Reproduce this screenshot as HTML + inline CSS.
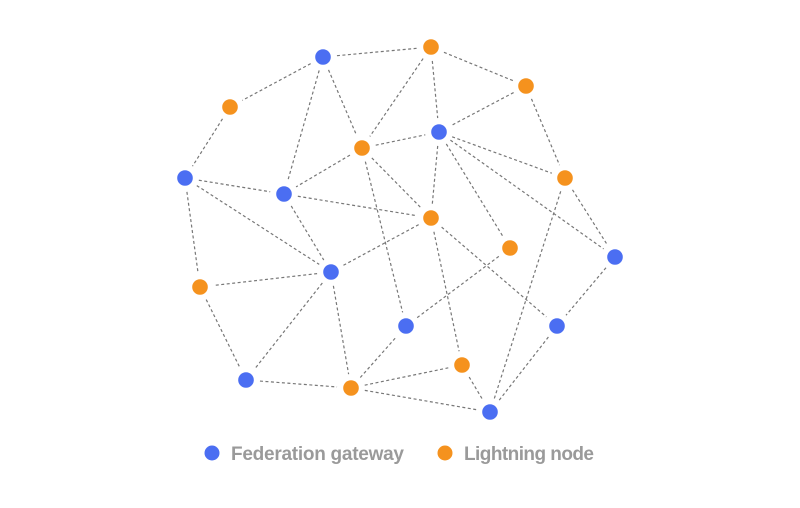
<!DOCTYPE html>
<html><head><meta charset="utf-8"><style>
body{margin:0;background:#fff;}
svg{display:block;font-family:"Liberation Sans",sans-serif;}
</style></head><body>
<svg id="chart" width="800" height="508">
<g id="edges"></g>
<g id="nodes"></g>
<g>
<circle cx="212" cy="453" r="7.5" fill="#4b6ef2"/>
<text x="231" y="460" font-size="19" font-weight="bold" fill="#9a9a9a" textLength="173">Federation gateway</text>
<circle cx="445" cy="453" r="7.5" fill="#f5921e"/>
<text x="464" y="460" font-size="19" font-weight="bold" fill="#9a9a9a" textLength="130">Lightning node</text>
</g>
</svg>
<script>
const nodeIds = ["A","B","C","D","E","F","G","H","I","J","a","b","c","d","e","f","g","h","i","j"];
const nodeTypes = ["gateway","gateway","gateway","gateway","gateway","gateway","gateway","gateway","gateway","gateway","lightning","lightning","lightning","lightning","lightning","lightning","lightning","lightning","lightning","lightning"];
const nodeX = [323,439,185,284,331,615,406,557,246,490,431,526,230,362,565,431,510,200,462,351];
const nodeY = [57,132,178,194,272,257,326,326,380,412,47,86,107,148,178,218,248,287,365,388];
const edges = [["A","a"],["A","c"],["A","d"],["A","D"],["a","d"],["a","B"],["a","b"],["b","B"],["b","e"],["c","C"],["d","B"],["d","D"],["d","f"],["d","G"],["B","f"],["B","e"],["B","g"],["B","F"],["C","D"],["C","E"],["C","h"],["D","f"],["D","E"],["e","F"],["e","J"],["f","E"],["f","i"],["f","H"],["g","G"],["E","h"],["E","I"],["E","j"],["F","H"],["H","J"],["h","I"],["I","j"],["j","G"],["j","i"],["j","J"],["i","J"]];
const colors = {gateway:"#4b6ef2", lightning:"#f5921e"};
const NS="http://www.w3.org/2000/svg";
const eg=document.getElementById("edges"), ng=document.getElementById("nodes");
function pos(id){const k=nodeIds.indexOf(id);return [nodeX[k],nodeY[k]];}
edges.forEach(function(e){
  const p=pos(e[0]), q=pos(e[1]);
  const dx=q[0]-p[0], dy=q[1]-p[1], L=Math.hypot(dx,dy), s=14/L;
  const l=document.createElementNS(NS,"line");
  l.setAttribute("x1",p[0]+dx*s);l.setAttribute("y1",p[1]+dy*s);
  l.setAttribute("x2",q[0]-dx*s);l.setAttribute("y2",q[1]-dy*s);
  l.setAttribute("stroke","#777");l.setAttribute("stroke-width","1.2");
  l.setAttribute("stroke-dasharray","3 2.5");
  
  
  eg.appendChild(l);
});
nodeIds.forEach(function(id,k){
  const c=document.createElementNS(NS,"circle");
  c.setAttribute("cx",nodeX[k]);c.setAttribute("cy",nodeY[k]);c.setAttribute("r","7.8");
  c.setAttribute("fill",colors[nodeTypes[k]]);
  
  
  ng.appendChild(c);
});
</script>
</body></html>
